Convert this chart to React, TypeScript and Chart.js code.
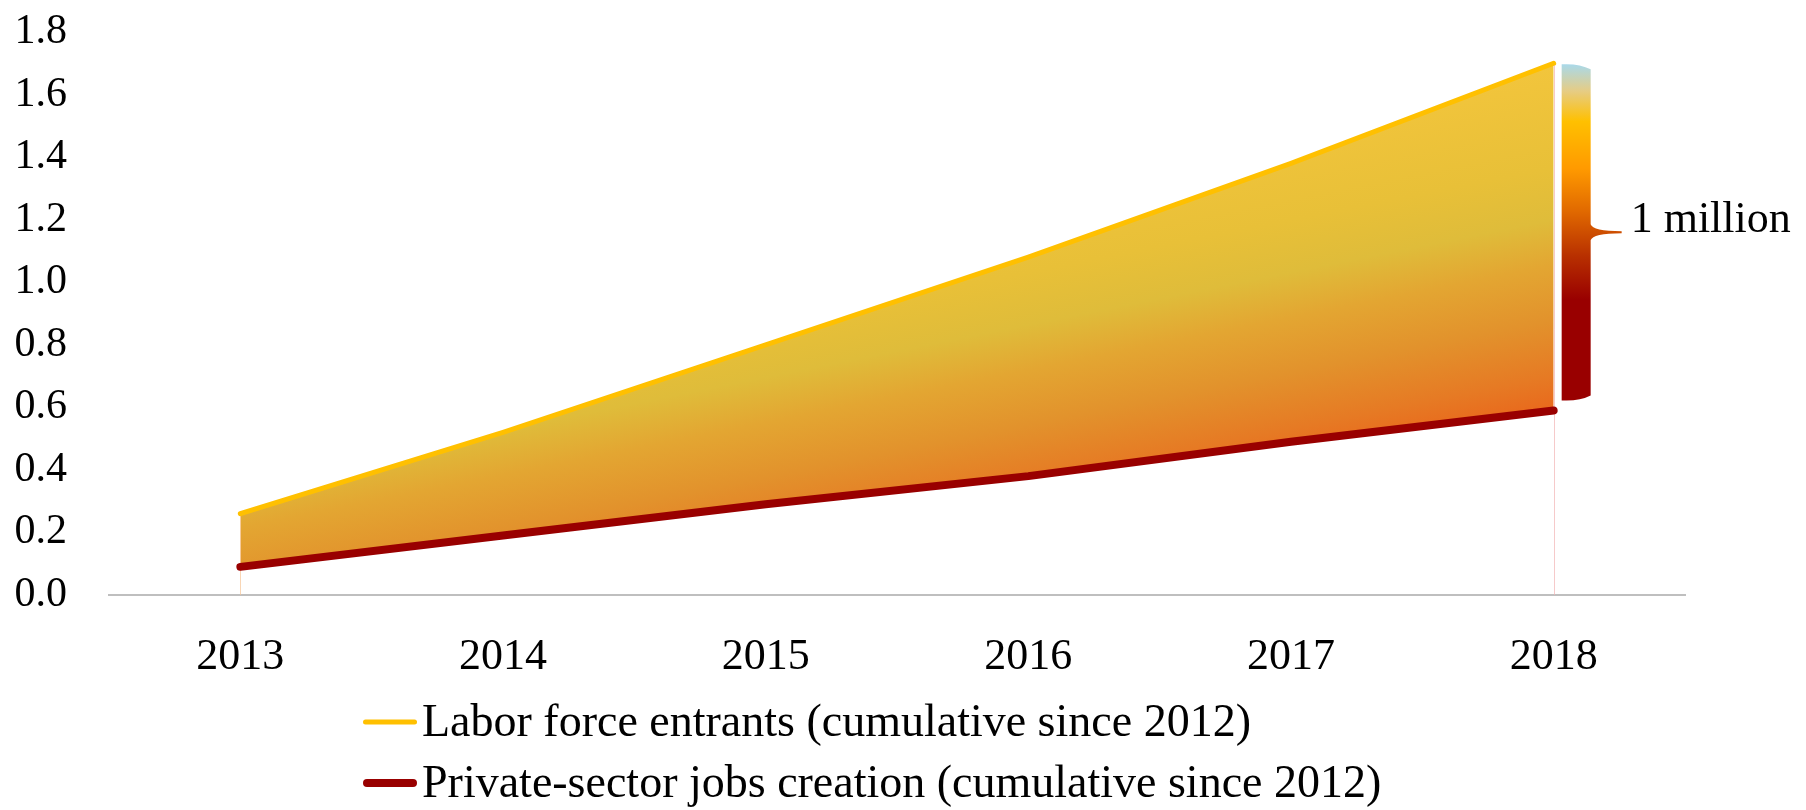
import React, { useEffect, useRef } from "react";
import { Chart, registerables } from "chart.js";

Chart.register(...registerables);

// ---------- data ----------
const years = ["2013", "2014", "2015", "2016", "2017", "2018"];
const laborForceEntrants = [0.26, 0.52, 0.8, 1.08, 1.38, 1.7];
const privateSectorJobs = [0.09, 0.19, 0.29, 0.38, 0.49, 0.59];
const yTickValues = [0, 0.2, 0.4, 0.6, 0.8, 1.0, 1.2, 1.4, 1.6, 1.8];
const seriesNames = [
  "Labor force entrants (cumulative since 2012)",
  "Private-sector jobs creation (cumulative since 2012)",
];
const seriesColors = ["#FFC000", "#990000"];
const seriesWidths = [5, 8];
const gapLabel = "1 million";

const FONT = "'Liberation Serif', 'Times New Roman', serif";

function bandGradient(context: any) {
  const chart = context.chart;
  const { ctx, chartArea, scales } = chart;
  if (!chartArea || !scales.x || !scales.y) return "#E8B030";
  const last = years.length - 1;
  const x5 = scales.x.getPixelForValue(last);
  const yt = scales.y.getPixelForValue(laborForceEntrants[last]);
  const yb = scales.y.getPixelForValue(privateSectorJobs[last]);
  const h = (yb - yt) / 1.04;
  const g = ctx.createLinearGradient(x5, yt, x5 + 0.2 * h, yt + h);
  g.addColorStop(0, "#F2C53C");
  g.addColorStop(0.3, "#E8C038");
  g.addColorStop(0.45, "#DFBC3A");
  g.addColorStop(0.58, "#E3A632");
  g.addColorStop(0.74, "#E2922C");
  g.addColorStop(0.9, "#E67A24");
  g.addColorStop(1, "#E9681C");
  return g;
}

const decorPlugin = {
  id: "decor",
  beforeDatasetsDraw(chart: any) {
    const { ctx, scales } = chart;
    const x = scales.x;
    const y = scales.y;
    const last = years.length - 1;
    const drops = [
      { i: 0, top: laborForceEntrants[0], color: "rgba(246,196,150,0.7)" },
      { i: last, top: laborForceEntrants[last], color: "rgba(242,180,180,0.7)" },
    ];
    ctx.save();
    ctx.lineWidth = 1;
    for (const d of drops) {
      const px = Math.round(x.getPixelForValue(d.i)) + 0.5;
      ctx.strokeStyle = d.color;
      ctx.beginPath();
      ctx.moveTo(px, y.getPixelForValue(0));
      ctx.lineTo(px, y.getPixelForValue(d.top));
      ctx.stroke();
    }
    ctx.restore();
  },
  afterDatasetsDraw(chart: any) {
    const { ctx, scales } = chart;
    const x = scales.x;
    const y = scales.y;
    const last = years.length - 1;
    const x5 = x.getPixelForValue(last);
    const xl = x5 + 8;
    const xr = x5 + 37;
    const w = xr - xl;
    const yt = y.getPixelForValue(laborForceEntrants[last]) + 1;
    const yb = y.getPixelForValue(privateSectorJobs[last]) - 10;
    const ym = (yt + yb) / 2;

    const g = ctx.createLinearGradient(0, yt, 0, yb);
    g.addColorStop(0, "#A9D9EA");
    g.addColorStop(0.08, "#E6CC84");
    g.addColorStop(0.17, "#FFC000");
    g.addColorStop(0.31, "#FF9A00");
    g.addColorStop(0.44, "#E06800");
    g.addColorStop(0.57, "#B83000");
    g.addColorStop(0.7, "#990000");
    g.addColorStop(1, "#990000");

    ctx.save();
    ctx.fillStyle = g;
    ctx.beginPath();
    ctx.moveTo(xl, yt);
    ctx.quadraticCurveTo(xl + w * 0.6, yt - 1, xr, yt + 5);
    ctx.lineTo(xr, ym - 8);
    ctx.quadraticCurveTo(xr + 2, ym - 1.2, xr + 31, ym - 1);
    ctx.lineTo(xr + 31, ym + 1);
    ctx.quadraticCurveTo(xr + 2, ym + 1.2, xr, ym + 8);
    ctx.lineTo(xr, yb - 5);
    ctx.quadraticCurveTo(xl + w * 0.6, yb + 1, xl, yb);
    ctx.closePath();
    ctx.fill();

    ctx.fillStyle = "#000";
    ctx.font = `44px ${FONT}`;
    ctx.textAlign = "left";
    ctx.textBaseline = "alphabetic";
    ctx.fillText(gapLabel, xr + 40, ym);
    ctx.restore();
  },
  afterDraw(chart: any) {
    const { ctx } = chart;
    const left = 363;
    const firstY = 722;
    const rowGap = 61;
    const sample = 54;
    ctx.save();
    ctx.font = `46px ${FONT}`;
    ctx.textAlign = "left";
    ctx.textBaseline = "middle";
    seriesNames.forEach((name, i) => {
      const cy = firstY + i * rowGap;
      ctx.strokeStyle = seriesColors[i];
      ctx.lineWidth = seriesWidths[i];
      ctx.lineCap = "round";
      ctx.beginPath();
      ctx.moveTo(left + seriesWidths[i] / 2, cy);
      ctx.lineTo(left + sample - seriesWidths[i] / 2, cy);
      ctx.stroke();
      ctx.fillStyle = "#000";
      ctx.fillText(name, left + sample + 5, cy + 2);
    });
    ctx.restore();
  },
};

export default function App() {
  const canvasRef = useRef<HTMLCanvasElement | null>(null);

  useEffect(() => {
    if (!canvasRef.current) return;
    const chart = new Chart(canvasRef.current, {
      type: "line",
      data: {
        labels: years,
        datasets: [
          {
            label: seriesNames[0],
            data: laborForceEntrants,
            borderColor: seriesColors[0],
            borderWidth: seriesWidths[0],
            borderCapStyle: "round",
            borderJoinStyle: "round",
            pointRadius: 0,
            tension: 0,
            fill: "+1",
            backgroundColor: bandGradient,
          },
          {
            label: seriesNames[1],
            data: privateSectorJobs,
            borderColor: seriesColors[1],
            borderWidth: seriesWidths[1],
            borderCapStyle: "round",
            borderJoinStyle: "round",
            pointRadius: 0,
            tension: 0,
            fill: false,
          },
        ],
      },
      options: {
        animation: false,
        responsive: true,
        maintainAspectRatio: false,
        layout: { padding: { top: 32, right: 121, bottom: 125, left: 0 } },
        plugins: {
          legend: { display: false },
          tooltip: { enabled: false },
          filler: { drawTime: "beforeDatasetsDraw" },
        },
        scales: {
          x: {
            offset: true,
            grid: { display: false, drawTicks: false },
            border: { display: true, color: "#BFBFBF", width: 2 },
            ticks: {
              color: "#000",
              padding: 36,
              font: { family: FONT, size: 44 },
              maxRotation: 0,
            },
            afterFit: (scale: any) => {
              scale.height = 90;
            },
          },
          y: {
            min: 0,
            max: 1.8,
            grid: { display: false, drawTicks: false },
            border: { display: false },
            ticks: {
              color: "#000",
              padding: 42,
              font: { family: FONT, size: 42 },
              callback: (v: any) => Number(v).toFixed(1),
            },
            afterBuildTicks: (scale: any) => {
              scale.ticks = yTickValues.map((v) => ({ value: v }));
            },
            afterFit: (scale: any) => {
              scale.width = 109;
              scale.paddingTop = 0;
              scale.paddingBottom = 0;
            },
          },
        },
      },
      plugins: [decorPlugin],
    } as any);
    return () => chart.destroy();
  }, []);

  return (
    <div
      style={{
        position: "fixed",
        left: 0,
        top: 0,
        width: "1806px",
        height: "810px",
        background: "#fff",
      }}
    >
      <canvas ref={canvasRef} />
    </div>
  );
}
